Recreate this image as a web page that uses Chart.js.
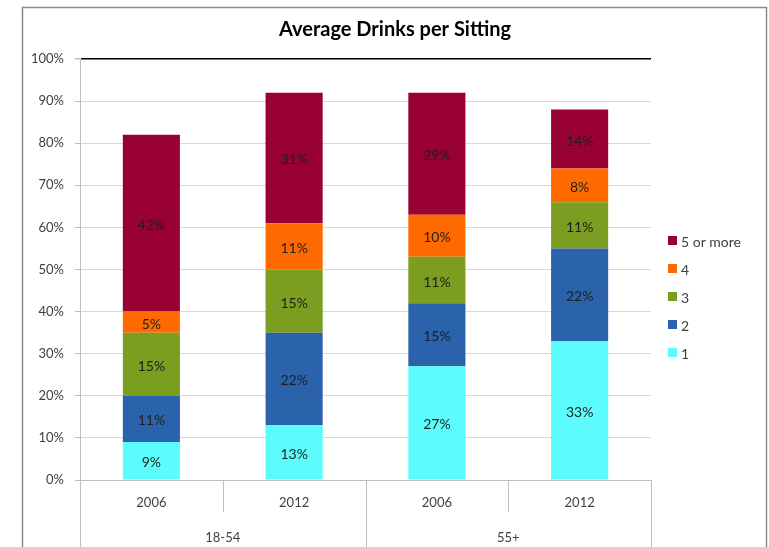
<!DOCTYPE html>
<html>
<head>
<meta charset="utf-8">
<script src="https://cdn.jsdelivr.net/npm/chart.js@4/dist/chart.umd.min.js"></script>
<style>
  html, body { margin: 0; padding: 0; background: #fff; }
  #wrap { width: 769px; height: 547px; position: relative; }
</style>
</head>
<body>
<div id="wrap"><canvas id="myChart"></canvas></div>
<script>
// データ
const years = ["2006", "2012", "2006", "2012"];
const groups = ["18-54", "55+"];
const seriesNames = ["1", "2", "3", "4", "5 or more"];
const s1 = [9, 13, 27, 33];
const s2 = [11, 22, 15, 22];
const s3 = [15, 15, 11, 11];
const s4 = [5, 11, 10, 8];
const s5 = [42, 31, 29, 14];
const yTicks = [0, 10, 20, 30, 40, 50, 60, 70, 80, 90, 100];
const colors = ["#5cfcfc", "#2a62ab", "#7b9e21", "#ff6a00", "#990033"];
const titleText = "Average Drinks per Sitting";

const FONT = "Lato, 'Open Sans', sans-serif";

// 外枠・タイトル・区切り線・凡例・値ラベル
const extrasPlugin = {
  id: "extras",
  beforeDraw(chart) {
    const ctx = chart.ctx;
    ctx.save();
    ctx.strokeStyle = "#8c8c8c";
    ctx.lineWidth = 1.5;
    ctx.strokeRect(22.5, 7.5, 744, 600);
    // タイトル（外枠の中央）
    ctx.font = "bold 20px " + FONT;
    ctx.fillStyle = "#000";
    ctx.textAlign = "center";
    ctx.textBaseline = "middle";
    ctx.fillText(titleText, 395, 30);
    ctx.restore();
  },
  afterDraw(chart) {
    const ctx = chart.ctx;
    const area = chart.chartArea;
    const xs = chart.scales.x;
    const step = xs.getPixelForValue(1) - xs.getPixelForValue(0);

    // カテゴリ区切り線
    ctx.save();
    ctx.strokeStyle = "#bfbfbf";
    ctx.lineWidth = 1;
    for (let i = 0; i <= years.length; i++) {
      const x = Math.round(xs.getPixelForValue(0) - step / 2 + i * step) + 0.5;
      const bottom = i % 2 === 0 ? chart.height : area.bottom + 32;
      ctx.beginPath();
      ctx.moveTo(x, area.bottom);
      ctx.lineTo(x, bottom);
      ctx.stroke();
    }
    ctx.restore();

    // 値ラベル
    ctx.save();
    ctx.font = "14px " + FONT;
    ctx.fillStyle = "#1f1f1f";
    ctx.textAlign = "center";
    ctx.textBaseline = "middle";
    chart.data.datasets.forEach(function (ds, di) {
      const meta = chart.getDatasetMeta(di);
      meta.data.forEach(function (bar, i) {
        const c = bar.getCenterPoint();
        ctx.fillText(ds.data[i] + "%", c.x, c.y + 2);
      });
    });
    ctx.restore();

    // 凡例
    ctx.save();
    ctx.font = "14px " + FONT;
    ctx.textBaseline = "middle";
    ctx.textAlign = "left";
    const n = chart.data.datasets.length;
    for (let k = 0; k < n; k++) {
      const di = n - 1 - k;
      const ds = chart.data.datasets[di];
      const y = 241 + k * 28;
      ctx.fillStyle = ds.backgroundColor;
      ctx.fillRect(668, y - 5, 9, 9);
      ctx.fillStyle = "#404040";
      ctx.fillText(ds.label, 681, y + 1);
    }
    ctx.restore();
  },
};

const seriesData = [s1, s2, s3, s4, s5];

const chart = new Chart(document.getElementById("myChart").getContext("2d"), {
  type: "bar",
  data: {
    labels: years,
    datasets: seriesNames.map(function (name, i) {
      return {
        label: name,
        data: seriesData[i],
        backgroundColor: colors[i],
        borderWidth: 0,
        barPercentage: 0.4,
        categoryPercentage: 1.0,
      };
    }),
  },
  options: {
    responsive: true,
    maintainAspectRatio: false,
    animation: false,
    layout: { padding: { left: 0, right: 118, top: 59, bottom: 0 } },
    plugins: {
      legend: { display: false },
      tooltip: { enabled: false },
      title: { display: false },
    },
    scales: {
      x: {
        stacked: true,
        offset: true,
        grid: { display: false, drawTicks: false },
        border: { display: true, color: "#bfbfbf", width: 1 },
        ticks: { color: "#404040", font: { family: FONT, size: 13 }, padding: 15 },
        afterFit: function (scale) { scale.height = 32; },
      },
      x2: {
        type: "category",
        labels: groups,
        position: "bottom",
        offset: true,
        grid: { display: false, drawTicks: false },
        border: { display: false },
        ticks: { color: "#404040", font: { family: FONT, size: 13 }, padding: 18 },
        afterFit: function (scale) { scale.height = 35; },
      },
      y: {
        stacked: true,
        min: 0,
        max: 100,
        afterBuildTicks: function (scale) {
          scale.ticks = yTicks.map(function (v) { return { value: v }; });
        },
        afterFit: function (scale) { scale.width = 80; },
        grid: {
          color: function (c) { return c.tick && c.tick.value === 100 ? "#000" : "#d9d9d9"; },
          lineWidth: function (c) { return c.tick && c.tick.value === 100 ? 1.5 : 1; },
          tickLength: 5,
          tickColor: "#bfbfbf",
        },
        border: { display: true, color: "#bfbfbf", width: 1 },
        ticks: {
          color: "#404040",
          font: { family: FONT, size: 13 },
          padding: 11,
          callback: function (value) { return value + "%"; },
        },
      },
    },
  },
  plugins: [extrasPlugin],
});
</script>
</body>
</html>
